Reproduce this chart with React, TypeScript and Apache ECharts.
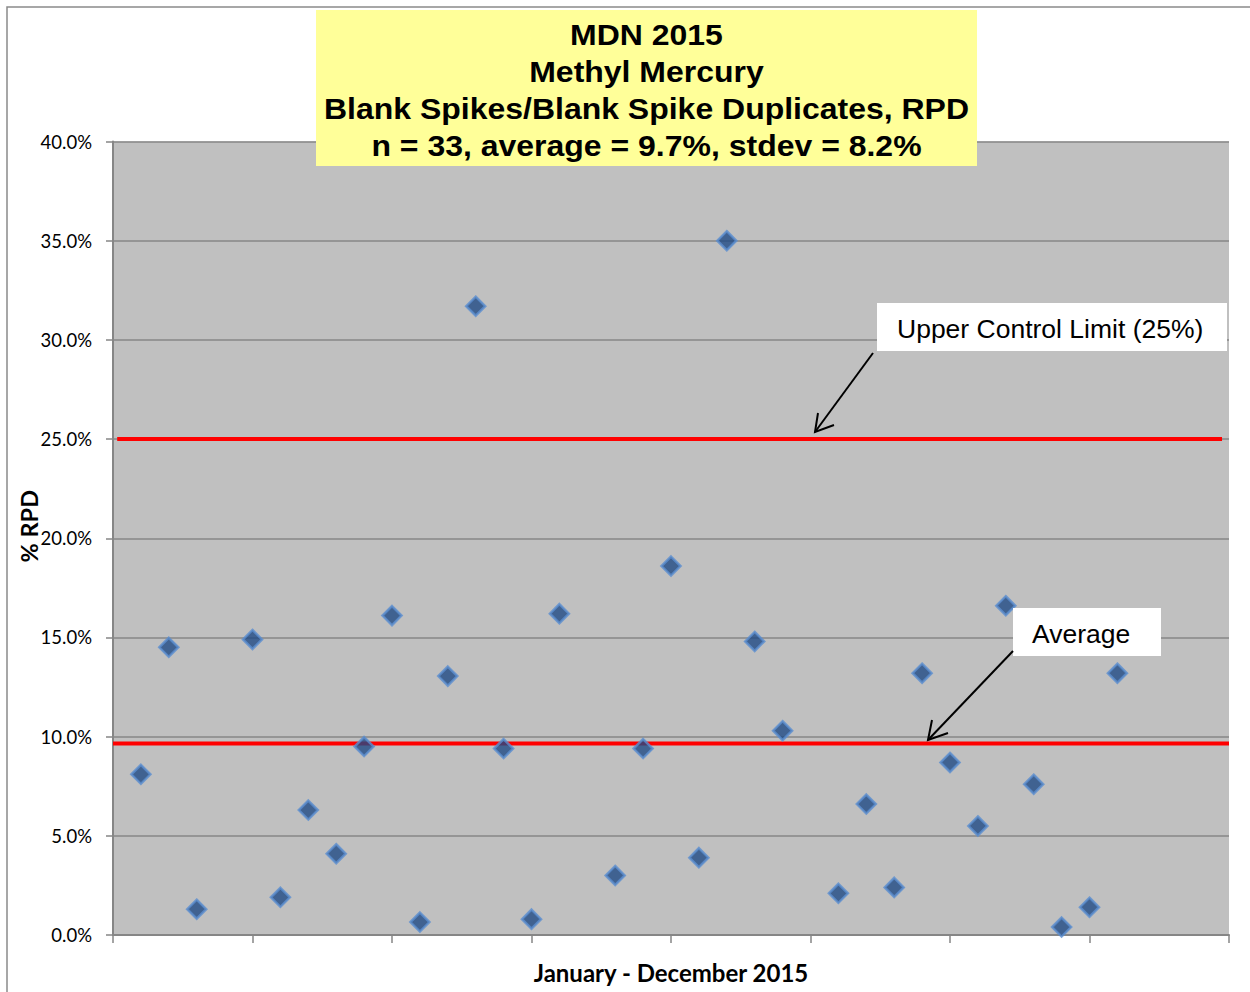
import React, { useEffect, useRef } from "react";
import * as echarts from "echarts";

// Sample sequence positions (x) and RPD values (%)
const sampleIndex = [1, 2, 3, 5, 6, 7, 8, 9, 10, 11, 12, 13, 14, 15, 16, 18, 19, 20, 21, 22, 23, 24, 26, 27, 28, 29, 30, 31, 32, 33, 34, 35, 36];
const rpdValues = [8.1, 14.5, 1.3, 14.9, 1.9, 6.3, 4.1, 9.5, 16.1, 0.65, 13.05, 31.7, 9.4, 0.8, 16.2, 3.0, 9.4, 18.6, 3.9, 35.0, 14.8, 10.3, 2.1, 6.6, 2.4, 13.2, 8.7, 5.5, 16.6, 7.6, 0.4, 1.4, 13.2];

const uclX = [0.15, 39.75];
const uclValue = 25;
const avgX = [0, 40];
const avgValue = 9.65;

const titleLines = [
  "MDN 2015",
  "Methyl Mercury",
  "Blank Spikes/Blank Spike Duplicates, RPD",
  "n = 33, average = 9.7%, stdev = 8.2%",
];

export default function App() {
  const ref = useRef<HTMLDivElement>(null);
  useEffect(() => {
    if (!ref.current) return;
    const chart = echarts.init(ref.current, null, { renderer: "svg" });
    const scatterData = sampleIndex.map((x, i) => [x, rpdValues[i]]);
    const uclData = uclX.map((x) => [x, uclValue]);
    const avgData = avgX.map((x) => [x, avgValue]);

    const arrow = (x1: number, y1: number, x2: number, y2: number, w1: number[], w2: number[]) => [
      {
        type: "line",
        shape: { x1, y1, x2, y2 },
        style: { stroke: "#000", lineWidth: 2 },
        z: 20,
      },
      {
        type: "polyline",
        shape: { points: [w1, [x2, y2], w2] },
        style: { stroke: "#000", lineWidth: 2, fill: null },
        z: 20,
      },
    ];

    chart.setOption({
      animation: false,
      backgroundColor: "#ffffff",
      grid: {
        left: 113,
        top: 141.5,
        right: 21,
        bottom: 57,
        outerBoundsMode: "none",
        show: true,
        backgroundColor: "#C0C0C0",
        borderWidth: 0,
      },
      xAxis: {
        type: "value",
        min: 0,
        max: 40,
        interval: 5,
        name: "January - December 2015",
        nameLocation: "middle",
        nameGap: 25,
        nameTextStyle: { fontFamily: "Lato", fontWeight: "bold", fontSize: 24, color: "#000" },
        axisLine: { show: true, lineStyle: { color: "#868686", width: 2 } },
        axisTick: { show: true, length: 8, lineStyle: { color: "#868686", width: 1.5 } },
        axisLabel: { show: false },
        splitLine: { show: false },
      },
      yAxis: {
        type: "value",
        min: 0,
        max: 40,
        interval: 5,
        name: "% RPD",
        nameLocation: "middle",
        nameRotate: 90,
        nameGap: 72,
        nameMoveOverlap: false,
        nameTextStyle: {
          fontFamily: "Lato",
          fontWeight: "bold",
          fontSize: 23.5,
          color: "#000",
          padding: [0, 0, 0, 24],
        },
        axisLine: { show: true, lineStyle: { color: "#868686", width: 2 } },
        axisTick: { show: true, length: 7, lineStyle: { color: "#868686", width: 1.5 } },
        axisLabel: {
          formatter: (v: number) => v.toFixed(1) + "%",
          fontFamily: "Lato",
          fontSize: 18.5,
          color: "#000",
          margin: 21,
        },
        splitLine: { show: true, lineStyle: { color: "#878787", width: 1.5 } },
      },
      series: [
        {
          type: "line",
          data: uclData,
          symbol: "none",
          lineStyle: { color: "#FF0000", width: 4 },
          z: 3,
        },
        {
          type: "line",
          data: avgData,
          symbol: "none",
          lineStyle: { color: "#FF0000", width: 4 },
          z: 3,
        },
        {
          type: "scatter",
          data: scatterData,
          symbol: "diamond",
          symbolSize: 19,
          itemStyle: { color: "#1F4A85", borderColor: "#5A8DD0", borderWidth: 2.5 },
          z: 5,
        },
      ],
      graphic: [
        {
          type: "rect",
          shape: { x: 7, y: 7, width: 1260, height: 1000 },
          style: { fill: null, stroke: "#8A8A8A", lineWidth: 1.5 },
          z: -10,
          silent: true,
        },
        {
          type: "rect",
          shape: { x: 316, y: 10, width: 661, height: 156 },
          style: { fill: "#FFFF99" },
          z: 10,
        },
        ...titleLines.map((t, i) => ({
          type: "text",
          x: 646.5,
          y: 34.5 + i * 37,
          scaleX: 1.066,
          style: {
            text: t,
            fontFamily: "Liberation Sans",
            fontWeight: "bold",
            fontSize: 30,
            fill: "#000",
            align: "center",
            verticalAlign: "middle",
          },
          z: 11,
        })),
        {
          type: "rect",
          shape: { x: 877, y: 303, width: 350, height: 48 },
          style: { fill: "#FFFFFF" },
          z: 10,
        },
        {
          type: "text",
          x: 897,
          y: 329,
          style: {
            text: "Upper Control Limit (25%)",
            fontFamily: "Liberation Sans",
            fontSize: 26.5,
            fill: "#000",
            align: "left",
            verticalAlign: "middle",
          },
          z: 11,
        },
        {
          type: "rect",
          shape: { x: 1013, y: 608, width: 148, height: 48 },
          style: { fill: "#FFFFFF" },
          z: 10,
        },
        {
          type: "text",
          x: 1032,
          y: 634,
          style: {
            text: "Average",
            fontFamily: "Liberation Sans",
            fontSize: 26.5,
            fill: "#000",
            align: "left",
            verticalAlign: "middle",
          },
          z: 11,
        },
        ...arrow(873, 353, 815, 432, [818, 413], [834, 425]),
        ...arrow(1013, 651, 928, 740, [932, 720], [948, 733]),
      ],
    });
    return () => chart.dispose();
  }, []);
  return (
    <div
      ref={ref}
      style={{ position: "absolute", left: 0, top: 0, width: 1250, height: 992 }}
    />
  );
}
